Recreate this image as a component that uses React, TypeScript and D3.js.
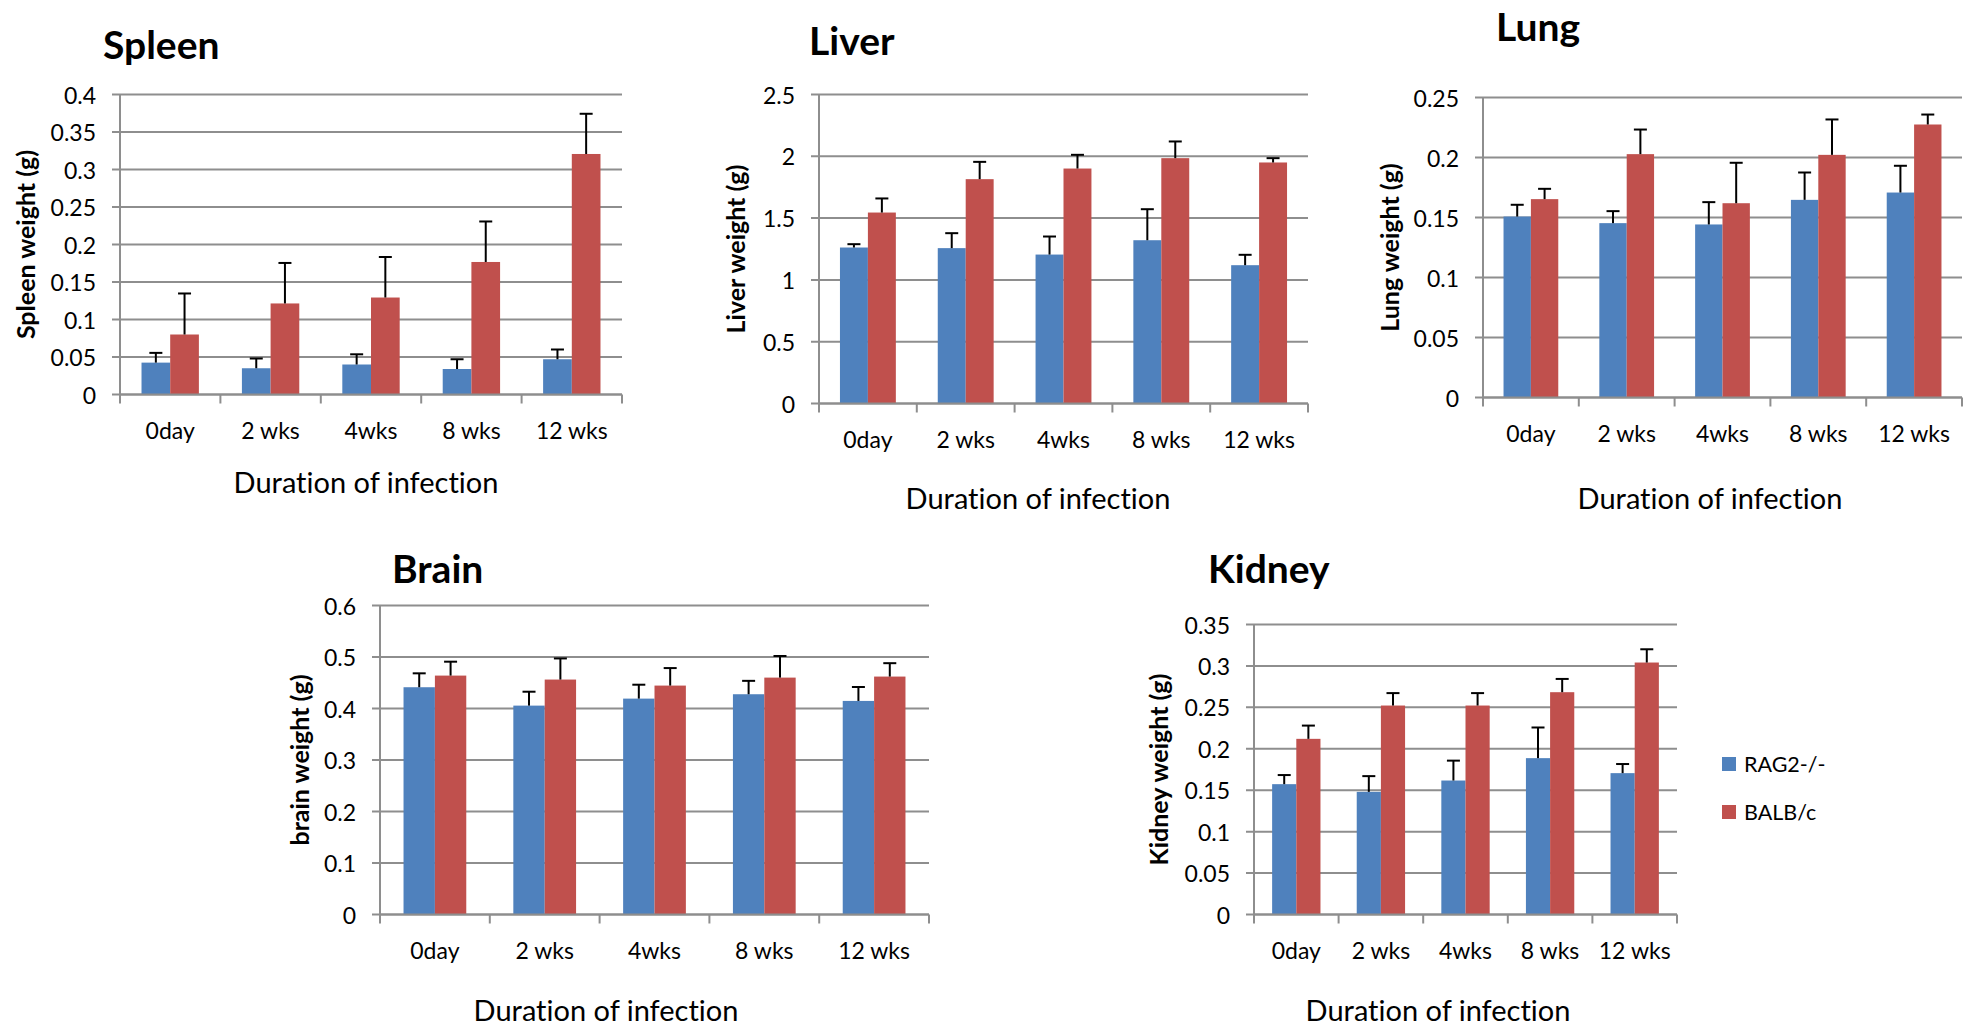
import React, { useEffect } from "react";
import * as d3 from "d3";

// ---------- DATA ----------
const categories = ["0day", "2 wks", "4wks", "8 wks", "12 wks"];
const seriesNames = ["RAG2-/-", "BALB/c"];

const spleenRag = [0.0425, 0.035, 0.04, 0.034, 0.047];
const spleenRagErr = [0.013, 0.013, 0.0136, 0.013, 0.013];
const spleenBalb = [0.08, 0.1214, 0.1293, 0.1767, 0.3207];
const spleenBalbErr = [0.0547, 0.054, 0.054, 0.054, 0.0536];
const spleenTicks = [0, 0.05, 0.1, 0.15, 0.2, 0.25, 0.3, 0.35, 0.4];
const spleenTickLabels = ["0", "0.05", "0.1", "0.15", "0.2", "0.25", "0.3", "0.35", "0.4"];

const liverRag = [1.262, 1.257, 1.205, 1.321, 1.119];
const liverRagErr = [0.027, 0.121, 0.146, 0.251, 0.084];
const liverBalb = [1.545, 1.815, 1.901, 1.985, 1.95];
const liverBalbErr = [0.114, 0.14, 0.111, 0.135, 0.035];
const liverTicks = [0, 0.5, 1, 1.5, 2, 2.5];
const liverTickLabels = ["0", "0.5", "1", "1.5", "2", "2.5"];

const lungRag = [0.1508, 0.1453, 0.1442, 0.1647, 0.1708];
const lungRagErr = [0.0098, 0.01, 0.0186, 0.0228, 0.0223];
const lungBalb = [0.1653, 0.2028, 0.1619, 0.2022, 0.2275];
const lungBalbErr = [0.0086, 0.0205, 0.0337, 0.0295, 0.0083];
const lungTicks = [0, 0.05, 0.1, 0.15, 0.2, 0.25];
const lungTickLabels = ["0", "0.05", "0.1", "0.15", "0.2", "0.25"];

const brainRag = [0.4413, 0.4056, 0.4192, 0.4277, 0.4147];
const brainRagErr = [0.027, 0.027, 0.027, 0.026, 0.027];
const brainBalb = [0.4639, 0.4562, 0.4445, 0.46, 0.462];
const brainBalbErr = [0.027, 0.041, 0.034, 0.042, 0.026];
const brainTicks = [0, 0.1, 0.2, 0.3, 0.4, 0.5, 0.6];
const brainTickLabels = ["0", "0.1", "0.2", "0.3", "0.4", "0.5", "0.6"];

const kidneyRag = [0.1573, 0.148, 0.1617, 0.1887, 0.1706];
const kidneyRagErr = [0.011, 0.019, 0.024, 0.037, 0.011];
const kidneyBalb = [0.212, 0.2522, 0.2522, 0.2683, 0.3041];
const kidneyBalbErr = [0.016, 0.015, 0.015, 0.016, 0.016];
const kidneyTicks = [0, 0.05, 0.1, 0.15, 0.2, 0.25, 0.3, 0.35];
const kidneyTickLabels = ["0", "0.05", "0.1", "0.15", "0.2", "0.25", "0.3", "0.35"];

const xAxisTitle = "Duration of infection";

// ---------- LAYOUT ----------
const COLORS = ["#4F81BD", "#C0504D"];
const GRID = "#8E8E8E";
const FONT = "Lato, 'Open Sans', sans-serif";
const NOLIG: React.CSSProperties = { fontVariantLigatures: "none" };

type Panel = {
  title: string;
  yTitle: string;
  rag: number[];
  ragErr: number[];
  balb: number[];
  balbErr: number[];
  ticks: number[];
  tickLabels: string[];
  left: number;
  right: number;
  top: number;
  bottom: number;
  titleX: number;
  titleY: number;
  yTitleX: number;
  xTitleX: number;
  xTitleY: number;
};

const panels: Panel[] = [
  {
    title: "Spleen", yTitle: "Spleen weight (g)",
    rag: spleenRag, ragErr: spleenRagErr, balb: spleenBalb, balbErr: spleenBalbErr,
    ticks: spleenTicks, tickLabels: spleenTickLabels,
    left: 120, right: 622, top: 94.5, bottom: 394.5,
    titleX: 103, titleY: 44, yTitleX: 25, xTitleX: 366, xTitleY: 481,
  },
  {
    title: "Liver", yTitle: "Liver weight (g)",
    rag: liverRag, ragErr: liverRagErr, balb: liverBalb, balbErr: liverBalbErr,
    ticks: liverTicks, tickLabels: liverTickLabels,
    left: 819, right: 1308, top: 94.5, bottom: 403.5,
    titleX: 809, titleY: 40, yTitleX: 735, xTitleX: 1038, xTitleY: 497,
  },
  {
    title: "Lung", yTitle: "Lung weight (g)",
    rag: lungRag, ragErr: lungRagErr, balb: lungBalb, balbErr: lungBalbErr,
    ticks: lungTicks, tickLabels: lungTickLabels,
    left: 1483, right: 1962, top: 97.5, bottom: 397.5,
    titleX: 1496, titleY: 26, yTitleX: 1389, xTitleX: 1710, xTitleY: 497,
  },
  {
    title: "Brain", yTitle: "brain weight (g)",
    rag: brainRag, ragErr: brainRagErr, balb: brainBalb, balbErr: brainBalbErr,
    ticks: brainTicks, tickLabels: brainTickLabels,
    left: 380, right: 929, top: 605.5, bottom: 914.5,
    titleX: 392, titleY: 568, yTitleX: 299, xTitleX: 606, xTitleY: 1009,
  },
  {
    title: "Kidney", yTitle: "Kidney weight (g)",
    rag: kidneyRag, ragErr: kidneyRagErr, balb: kidneyBalb, balbErr: kidneyBalbErr,
    ticks: kidneyTicks, tickLabels: kidneyTickLabels,
    left: 1254, right: 1677, top: 624.5, bottom: 914.5,
    titleX: 1208, titleY: 568, yTitleX: 1158, xTitleX: 1438, xTitleY: 1009,
  },
];

function ChartPanel({ p }: { p: Panel }) {
  const x = d3.scaleBand<string>().domain(categories).range([p.left, p.right]).paddingInner(0).paddingOuter(0);
  const xs = d3.scaleBand<string>().domain(seriesNames).range([0, x.bandwidth()]).paddingInner(0).paddingOuter(0.75);
  const y = d3.scaleLinear().domain([p.ticks[0], p.ticks[p.ticks.length - 1]]).range([p.bottom, p.top]);
  const bw = xs.bandwidth();
  const series = [
    { name: seriesNames[0], vals: p.rag, errs: p.ragErr, color: COLORS[0] },
    { name: seriesNames[1], vals: p.balb, errs: p.balbErr, color: COLORS[1] },
  ];
  const boundaries = d3.range(categories.length + 1).map((i) => p.left + i * x.step());
  const capW = 13;
  return (
    <g>
      <text x={p.titleX} y={p.titleY} dominantBaseline="central" fontFamily={FONT} fontWeight={700} fontSize={39} fill="#000" style={NOLIG}>
        {p.title}
      </text>
      {p.ticks.map((t, i) => (
        <g key={"g" + i}>
          <line x1={p.left - 8} x2={p.right} y1={y(t)} y2={y(t)} stroke={GRID} strokeWidth={2} />
          <text x={p.left - 24} y={y(t)} textAnchor="end" dominantBaseline="central" fontFamily={FONT} fontSize={23} fill="#000">
            {p.tickLabels[i]}
          </text>
        </g>
      ))}
      <line x1={p.left} x2={p.left} y1={p.top} y2={p.bottom} stroke={GRID} strokeWidth={2} />
      {series.map((s) =>
        categories.map((c, i) => (
          <rect key={s.name + c} x={(x(c) as number) + (xs(s.name) as number)} y={y(s.vals[i])} width={bw} height={y(0) - y(s.vals[i])} fill={s.color} />
        ))
      )}
      {series.map((s) =>
        categories.map((c, i) => {
          const cx = (x(c) as number) + (xs(s.name) as number) + bw / 2;
          const yt = y(s.vals[i] + s.errs[i]);
          return (
            <g key={"e" + s.name + c}>
              <line x1={cx} x2={cx} y1={y(s.vals[i])} y2={yt} stroke="#000" strokeWidth={2} />
              <line x1={cx - capW / 2} x2={cx + capW / 2} y1={yt} y2={yt} stroke="#000" strokeWidth={2} />
            </g>
          );
        })
      )}
      <line x1={p.left} x2={p.right} y1={p.bottom} y2={p.bottom} stroke={GRID} strokeWidth={2} />
      {boundaries.map((bx, i) => (
        <line key={"t" + i} x1={bx} x2={bx} y1={p.bottom} y2={p.bottom + 9} stroke={GRID} strokeWidth={2} />
      ))}
      {categories.map((c) => (
        <text key={"l" + c} x={(x(c) as number) + x.bandwidth() / 2} y={p.bottom + 35} textAnchor="middle" dominantBaseline="central" fontFamily={FONT} fontSize={23} fill="#000">
          {c}
        </text>
      ))}
      <text x={p.xTitleX} y={p.xTitleY} textAnchor="middle" dominantBaseline="central" fontFamily={FONT} fontSize={29} fill="#000" style={NOLIG}>
        {xAxisTitle}
      </text>
      <text
        transform={`translate(${p.yTitleX},${(p.top + p.bottom) / 2}) rotate(-90)`}
        textAnchor="middle"
        dominantBaseline="central"
        fontFamily={FONT}
        fontWeight={700}
        fontSize={25}
        fill="#000"
        style={NOLIG}
      >
        {p.yTitle}
      </text>
    </g>
  );
}

export default function App() {
  useEffect(() => {
    document.body.style.margin = "0";
    document.body.style.overflow = "hidden";
  }, []);
  const legendY = [764, 812];
  return (
    <svg width={1978} height={1025} style={{ position: "absolute", left: 0, top: 0, background: "#fff" }}>
      <rect x={0} y={0} width={1978} height={1025} fill="#fff" />
      {panels.map((p) => (
        <ChartPanel key={p.title} p={p} />
      ))}
      {seriesNames.map((n, i) => (
        <g key={n}>
          <rect x={1722} y={legendY[i] - 7} width={14} height={14} fill={COLORS[i]} />
          <text x={1744} y={legendY[i]} dominantBaseline="central" fontFamily={FONT} fontSize={21.5} fill="#000">
            {n}
          </text>
        </g>
      ))}
    </svg>
  );
}
